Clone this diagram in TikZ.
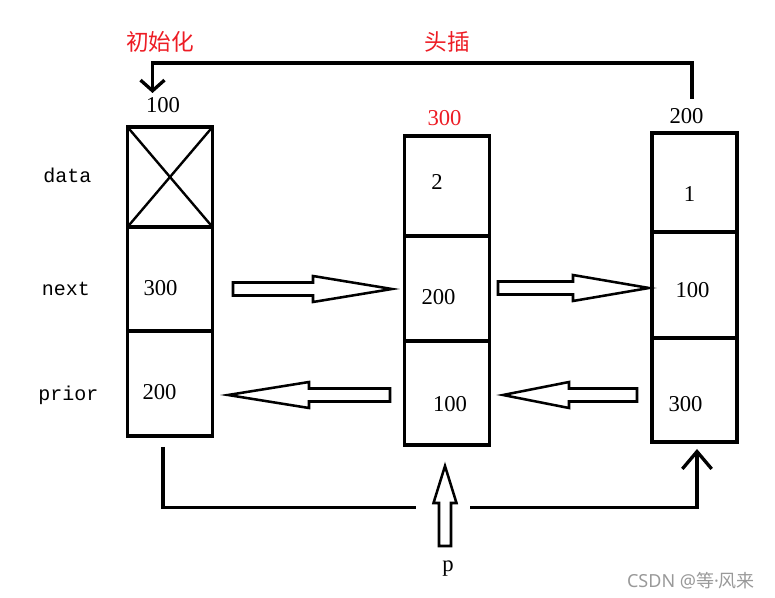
\documentclass[tikz,border=0pt]{standalone}
\usepackage{fontspec}
\setmainfont{Liberation Serif}
\newfontfamily\monofnt{Liberation Mono}
\newfontfamily\cjk{Noto Sans CJK SC}
\newfontfamily\latfnt{Noto Sans}
\usetikzlibrary{arrows.meta}
\definecolor{paintred}{RGB}{237,28,36}
\tikzset{
  cell/.style={draw,line width=2.6pt,minimum width=63.75pt,inner sep=0pt,outer sep=0pt},
  val/.style={anchor=base,inner sep=0pt,font=\fontsize{17}{20}\selectfont},
  fld/.style={anchor=base,inner sep=0pt,font=\monofnt\fontsize{15}{18}\selectfont},
  hanzi/.style={inner sep=0pt,text=paintred,font=\cjk\fontsize{17}{20}\selectfont},
  wire/.style={line width=2.5pt},
  hollow/.style={draw,line width=1.9pt,fill=white,line join=miter}
}
\begin{document}
\begin{tikzpicture}[x=0.75pt,y=-0.75pt]
\useasboundingbox (0,0) rectangle (775,598);
\foreach \n/\x/\ya/\ha/\yb/\hb/\yc/\hc in {a/170/177/100/279/104/383.5/105,b/447/186/100/288.5/105/393/104,c/694.5/182.5/99/285/106/390/104}{
  \node[cell,minimum height=\ha*0.75pt] (\n1) at (\x,\ya) {};
  \node[cell,minimum height=\hb*0.75pt] (\n2) at (\x,\yb) {};
  \node[cell,minimum height=\hc*0.75pt] (\n3) at (\x,\yc) {};}
\draw[line width=1.8pt] (a1.north west) -- (a1.south east) (a1.north east) -- (a1.south west);
\foreach \nm/\x/\y/\t in {va2/160.5/296/300,va3/159.5/400/200,vb1/437/190/2,vb2/438.5/305/200,vb3/450/412/100,vc1/689.5/202/1,vc2/692.5/298/100,vc3/685.5/412/300,ha/163/113/100,hc/686.5/124/200,ptr/448/571/p}
  \node[val] (\nm) at (\x,\y) {\t};
\node[val,text=paintred] (hb) at (444.5,126) {300};
\foreach \nm/\x/\y/\t in {fdata/67.5/183/data,fnext/66/296/next,fprior/68.5/401/prior}
  \node[fld] (\nm) at (\x,\y) {\t};
\node[hanzi] (init) at (160,42) {初始化};
\node[hanzi] (ins) at (447,42) {头插};
\node[inner sep=0pt,text=black!40,font=\cjk\fontsize{13.5}{16}\selectfont] (mark) at (691,581) {{\latfnt CSDN @}等{\latfnt ·}风来};
\foreach \t/\b/\e/\y in {233/313/392/289,498/573/649/288,390/309/228/395,637/569/503/395}
  \draw[hollow] (\t,\y-6.5) -- (\b,\y-6.5) -- (\b,\y-13) -- (\e,\y) -- (\b,\y+13) -- (\b,\y+6.5) -- (\t,\y+6.5) -- cycle;
\draw[hollow] (439,546) -- (439,503) -- (433.5,503) -- (445,466) -- (456.5,503) -- (451,503) -- (451,546) -- cycle;
\coordinate (t1) at (692,99); \coordinate (t2) at (152.5,63); \coordinate (t3) at (152.5,93);
\draw[wire,-{Straight Barb[length=8pt,width=18pt]}] (t1) |- (t2) -- (t3);
\coordinate (u1) at (163,447); \coordinate (u2) at (416,507.5);
\coordinate (u3) at (470,507.5); \coordinate (u4) at (697,449);
\draw[wire] (u1) |- (u2);
\draw[wire,-{Straight Barb[length=13pt,width=22pt]}] (u3) -| (u4);
\end{tikzpicture}
\end{document}
